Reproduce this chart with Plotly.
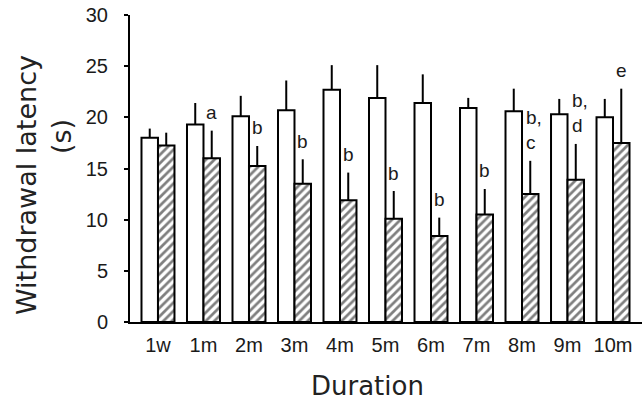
import plotly.graph_objects as go

categories = ['1w', '1m', '2m', '3m', '4m', '5m', '6m', '7m', '8m', '9m', '10m']
control_mean = [18.0, 19.3, 20.1, 20.7, 22.7, 21.9, 21.4, 20.9, 20.6, 20.3, 20.0]
control_sd = [0.9, 2.1, 2.0, 2.9, 2.4, 3.2, 2.8, 1.0, 2.2, 1.5, 1.8]
treated_mean = [17.25, 16.0, 15.25, 13.5, 11.9, 10.1, 8.4, 10.5, 12.5, 13.9, 17.5]
treated_sd = [1.25, 2.7, 1.95, 2.4, 2.7, 2.7, 1.8, 2.5, 3.25, 3.5, 5.3]
sig_labels = ['', 'a', 'b', 'b', 'b', 'b', 'b', 'b', 'b,<br>c', 'b,<br>d', 'e']
y_ticks = [0, 5, 10, 15, 20, 25, 30]

W, H = 642, 403
L, R, T, B = 130, 0, 15, 81
PW, PH = W - L - R, H - T - B
bargap = 0.275
xs = list(range(len(categories)))

def px(x):
    return (x - L) / PW

def py(y):
    return (H - B - y) / PH

err_style = dict(type='data', symmetric=False, width=0, thickness=2, color='black')

fig = go.Figure()
fig.add_trace(go.Bar(
    x=xs, y=control_mean,
    marker=dict(color='white', line=dict(color='black', width=2)),
    error_y=dict(array=control_sd, arrayminus=[0] * len(xs), **err_style),
    showlegend=False,
))
fig.add_trace(go.Bar(
    x=xs, y=treated_mean,
    marker=dict(color='white', line=dict(color='black', width=2),
                pattern=dict(shape='/', size=6, solidity=0.45, fgcolor='black', bgcolor='white')),
    error_y=dict(array=treated_sd, arrayminus=[0] * len(xs), **err_style),
    showlegend=False,
))

half = (1 - bargap) / 4
annotations = []
for i, lab in enumerate(sig_labels):
    if not lab:
        continue
    top = treated_mean[i] + treated_sd[i]
    nlines = lab.count('<br>') + 1
    annotations.append(dict(
        x=xs[i] + half, y=top, xref='x', yref='y', text=lab, showarrow=False,
        xanchor='center', yanchor='middle', align='left',
        xshift=4 if nlines > 1 else 0,
        yshift=18 + 13 * (nlines - 1),
        font=dict(family='Liberation Sans, Arial', size=19, color='#1a1a1a'),
    ))

annotations.append(dict(
    x=px(26), y=py(185), xref='paper', yref='paper', text='Withdrawal latency',
    textangle=-90, showarrow=False, xanchor='center', yanchor='middle',
    font=dict(family='DejaVu Sans', size=27, color='#222')))
annotations.append(dict(
    x=px(61), y=py(137), xref='paper', yref='paper', text='(s)',
    textangle=-90, showarrow=False, xanchor='center', yanchor='middle',
    font=dict(family='DejaVu Sans', size=27, color='#222')))
annotations.append(dict(
    x=px(367), y=py(386), xref='paper', yref='paper', text='Duration',
    showarrow=False, xanchor='center', yanchor='middle',
    font=dict(family='DejaVu Sans', size=26, color='#222')))

fig.update_layout(
    width=W, height=H,
    margin=dict(l=L, r=R, t=T, b=B, pad=0),
    paper_bgcolor='white', plot_bgcolor='white',
    barmode='group', bargap=bargap, bargroupgap=0,
    annotations=annotations,
    xaxis=dict(
        range=[-0.615, 10.637], tickvals=xs, ticktext=categories,
        showline=True, linecolor='black', linewidth=2, ticks='',
        showgrid=False, zeroline=False, ticklabelstandoff=4,
        tickfont=dict(family='Liberation Sans, Arial', size=20, color='#1a1a1a'),
    ),
    yaxis=dict(
        range=[0, 30], tickvals=y_ticks,
        showline=True, linecolor='black', linewidth=2,
        ticks='outside', ticklen=4, tickwidth=2, tickcolor='black',
        showgrid=False, zeroline=False, ticklabelstandoff=12,
        tickfont=dict(family='Liberation Sans, Arial', size=20, color='#1a1a1a'),
    ),
)

fig.write_html('out.html', config={'displayModeBar': False},
               post_script="document.body.style.margin='0';document.body.style.padding='0';")
